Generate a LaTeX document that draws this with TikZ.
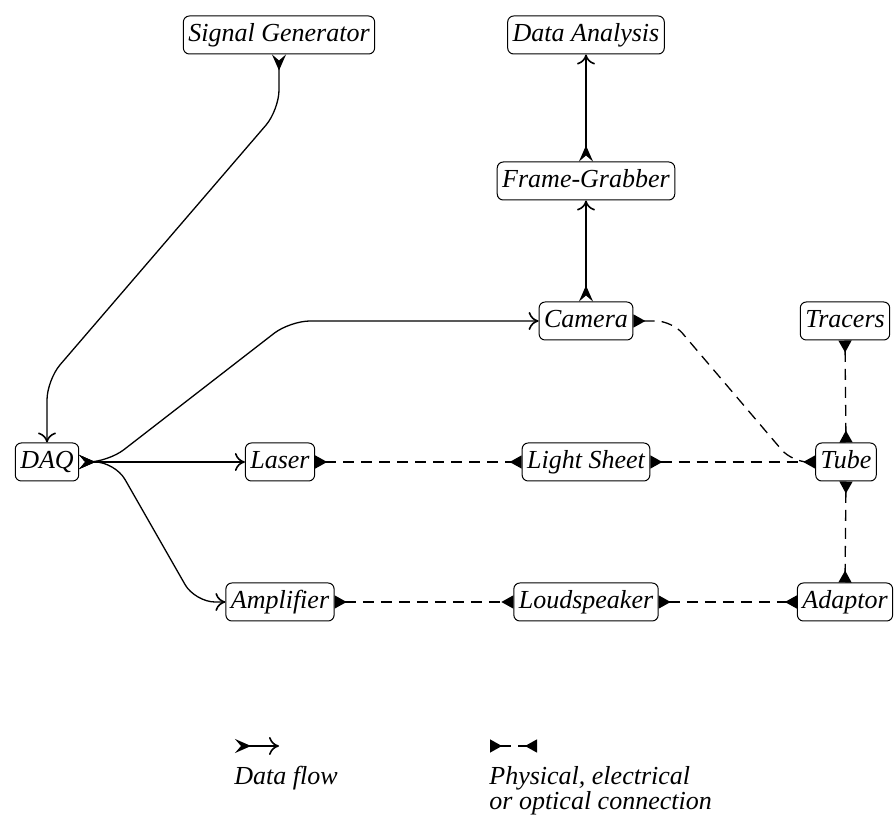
\documentclass[tikz,border=0pt]{standalone}
\usepackage{fontspec}
\setmainfont{Liberation Serif}
\usetikzlibrary{arrows.meta}
\begin{document}
\begin{tikzpicture}[x=0.5pt,y=-0.5pt,
 box/.style={draw, rounded corners=3pt, line width=0.5pt, inner xsep=2.5pt, inner ysep=0pt,
   text height=10pt, text depth=3.5pt, minimum height=19pt,
   font=\fontsize{13}{15}\selectfont\itshape},
 lbl/.style={font=\fontsize{13}{12.5}\selectfont\itshape, inner sep=0pt, align=left},
 flow/.style={line width=0.65pt, rounded corners=10pt,
   {Stealth[reversed,length=8pt,width=7pt,inset=3pt]}-{To[length=5pt,width=9pt,line width=0.8pt]}},
 phys/.style={line width=0.65pt, rounded corners=10pt, dash pattern=on 5.5pt off 3.5pt,
   {Triangle[reversed,length=6pt,width=6.5pt]}-{Triangle[reversed,length=6pt,width=6.5pt]}}]
\useasboundingbox (0,0) rectangle (895,817);
\node[box] (sg)   at (279,35)  {Signal Generator};
\node[box] (da)   at (586,35)  {Data Analysis};
\node[box] (fg)   at (586,181) {Frame-Grabber};
\node[box] (cam)  at (586,321) {Camera};
\node[box] (tr)   at (845,321) {Tracers};
\node[box] (daq)  at (47,462)  {DAQ};
\node[box] (lsr)  at (280,462) {Laser};
\node[box] (ls)   at (586,462) {Light Sheet};
\node[box] (tube) at (846,462) {Tube};
\node[box] (amp)  at (280,602) {Amplifier};
\node[box] (lsp)  at (586,602) {Loudspeaker};
\node[box] (ad)   at (845,602) {Adaptor};
% data flow
\draw[flow] (sg.south) -- (279,110) -- (47,380) -- (daq.north);
\draw[flow] (daq.east) -- (108,462) -- (290,321) -- (cam.west);
\draw[flow] (daq.east) -- (lsr.west);
\draw[flow] (daq.east) -- (115,462) -- (195,602) -- (amp.west);
\draw[flow] (cam.north) -- (fg.south);
\draw[flow] (fg.north) -- (da.south);
% physical
\draw[phys] (lsr.east) -- (ls.west);
\draw[phys] (ls.east) -- (tube.west);
\draw[phys, rounded corners=8pt, {Triangle[reversed,length=6pt,width=6.5pt]}-, shorten >=6.5pt]
  (cam.east) -- (672,321) -- (792,462) -- (tube.west);
\draw[phys] (tr.south) -- (tube.north);
\draw[phys] (tube.south) -- (ad.north);
\draw[phys] (amp.east) -- (lsp.west);
\draw[phys] (lsp.east) -- (ad.west);
% legend
\coordinate (l1a) at (235,746);
\coordinate (l1b) at (279,746);
\draw[flow] (l1a) -- (l1b);
\node[lbl, anchor=north west] (l1t) at (234,766) {Data flow};
\coordinate (l2a) at (490,746);
\coordinate (l2b) at (537,746);
\draw[phys] (l2a) -- (l2b);
\node[lbl, anchor=north west] (l2t) at (489,766) {Physical, electrical\\or optical connection};
\end{tikzpicture}
\end{document}
